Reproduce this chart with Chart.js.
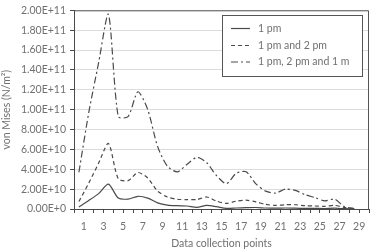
<!DOCTYPE html>
<html>
<head>
<meta charset="utf-8">
<script src="https://cdn.jsdelivr.net/npm/chart.js@4.4.1/dist/chart.umd.min.js"></script>
<style>
  html, body { margin: 0; padding: 0; background: #fff; }
  #wrap { width: 376px; height: 250px; position: relative; }
</style>
</head>
<body>
<div id="wrap"><canvas id="c"></canvas></div>
<script>
// x positions of the collection points (sit between the axis ticks)
const xPoints = [0.5, 1.5, 2.5, 3.5, 4.5, 5.5, 6.5, 7.5, 8.5, 9.5, 10.5, 11.5, 12.5, 13.5, 14.5,
  15.5, 16.5, 17.5, 18.5, 19.5, 20.5, 21.5, 22.5, 23.5, 24.5, 25.5, 26.5, 27.5, 28.5];

const seriesLabels = ['1 pm', '1 pm and 2 pm', '1 pm, 2 pm and 1 m'];

const pm1 = [0.2e10, 0.85e10, 1.55e10, 2.5e10, 1.1e10, 1.0e10, 1.28e10, 1.1e10, 0.62e10, 0.39e10,
  0.33e10, 0.3e10, 0.17e10, 0.36e10, 0.23e10, 0.07e10, 0.1e10, 0.13e10, 0.15e10, 0.1e10,
  0.08e10, 0.1e10, 0.08e10, 0.06e10, 0.06e10, 0.05e10, 0.08e10, 0.03e10, 0.01e10];

const pm1pm2 = [0.75e10, 2.6e10, 4.6e10, 6.6e10, 3.05e10, 2.85e10, 3.67e10, 3.12e10, 1.8e10, 1.21e10,
  0.98e10, 0.95e10, 0.95e10, 1.21e10, 0.79e10, 0.56e10, 0.79e10, 0.89e10, 0.72e10, 0.46e10,
  0.36e10, 0.43e10, 0.43e10, 0.33e10, 0.3e10, 0.26e10, 0.36e10, 0.16e10, 0.03e10];

const pm1pm2m1 = [3.7e10, 9.7e10, 14.7e10, 19.6e10, 9.3e10, 9.3e10, 11.8e10, 10.0e10, 6.3e10, 4.3e10,
  3.74e10, 4.5e10, 5.2e10, 4.65e10, 3.35e10, 2.55e10, 3.6e10, 3.75e10, 2.53e10, 1.8e10,
  1.6e10, 2.0e10, 1.87e10, 1.44e10, 1.15e10, 0.82e10, 1.0e10, 0.23e10, 0.05e10];

const yTickLabels = ['0.00E+0', '2.00E+10', '4.00E+10', '6.00E+10', '8.00E+10', '1.00E+11',
  '1.20E+11', '1.40E+11', '1.60E+11', '1.80E+11', '2.00E+11'];
const xTickLabels = ['1', '3', '5', '7', '9', '11', '13', '15', '17', '19', '21', '23', '25', '27', '29'];

const FONT = 'Lato, "DejaVu Sans", sans-serif';
const INK = '#4a4a4a';
const TXT = '#707070';

const pts = (ys) => ys.map((y, i) => ({ x: xPoints[i], y }));

const dashes = [[], [4, 3], [7, 3, 2, 3]];

// plot frame (top + right edges) and the boxed legend inside the plot
const framePlugin = {
  id: 'frame',
  afterDraw(chart) {
    const { ctx, chartArea: a } = chart;
    ctx.save();
    ctx.strokeStyle = '#555';
    ctx.lineWidth = 1;
    ctx.beginPath();
    ctx.moveTo(a.left, a.top + 0.5);
    ctx.lineTo(a.right - 0.5, a.top + 0.5);
    ctx.lineTo(a.right - 0.5, a.bottom);
    ctx.stroke();

    // legend box
    const bx = 222, by = 15, bw = 140, bh = 61;
    ctx.fillStyle = '#fff';
    ctx.fillRect(bx, by, bw, bh);
    ctx.strokeRect(bx + 0.5, by + 0.5, bw, bh);
    ctx.font = '10.5px ' + FONT;
    ctx.textBaseline = 'middle';
    const rows = [28.5, 45.5, 62];
    chart.data.datasets.forEach((ds, i) => {
      ctx.strokeStyle = ds.borderColor;
      ctx.lineWidth = ds.borderWidth;
      ctx.setLineDash(ds.borderDash || []);
      ctx.beginPath();
      ctx.moveTo(231, rows[i]);
      ctx.lineTo(250, rows[i]);
      ctx.stroke();
      ctx.setLineDash([]);
      ctx.fillStyle = TXT;
      ctx.fillText(ds.label, 258, rows[i]);
    });
    ctx.restore();
  }
};

new Chart(document.getElementById('c'), {
  type: 'line',
  data: {
    datasets: [pm1, pm1pm2, pm1pm2m1].map((ys, i) => ({
      label: seriesLabels[i],
      data: pts(ys),
      borderColor: INK,
      borderWidth: 1.2,
      borderDash: dashes[i],
      pointRadius: 0,
      tension: 0.25,
      fill: false
    }))
  },
  options: {
    responsive: true, maintainAspectRatio: false, animation: false,
    layout: { padding: { top: 6, right: 4, left: 0, bottom: 0 } },
    plugins: { legend: { display: false }, tooltip: { enabled: false } },
    scales: {
      x: {
        type: 'linear', min: 0, max: 30,
        afterFit: (s) => { s.height = 41; },
        afterBuildTicks: (s) => {
          s.ticks = [];
          for (let v = 0; v <= 30; v++) s.ticks.push({ value: v });
        },
        ticks: {
          autoSkip: false, maxRotation: 0, color: TXT, padding: 7,
          font: { family: FONT, size: 10.5 },
          callback: (v) => xTickLabels.includes(String(v)) ? String(v) : ''
        },
        grid: { drawOnChartArea: false, drawTicks: true, tickLength: 4, color: INK },
        border: { color: INK, width: 1 },
        title: { display: true, text: 'Data collection points', color: TXT,
          font: { family: FONT, size: 10.5 }, padding: { top: 1, bottom: 0 } }
      },
      y: {
        min: 0, max: 2e11,
        afterFit: (s) => { s.width = 74; },
        ticks: {
          stepSize: 2e10, color: TXT, padding: 4,
          font: { family: FONT, size: 10.5 },
          callback: (v, i) => yTickLabels[i]
        },
        grid: { color: '#dcdcdc', tickColor: INK, tickLength: 4 },
        border: { color: INK, width: 1 },
        title: { display: true, text: 'von Mises (N/m²)', color: TXT,
          font: { family: FONT, size: 10.5 }, padding: { top: 0, bottom: 1 } }
      }
    }
  },
  plugins: [framePlugin]
});
</script>
</body>
</html>
